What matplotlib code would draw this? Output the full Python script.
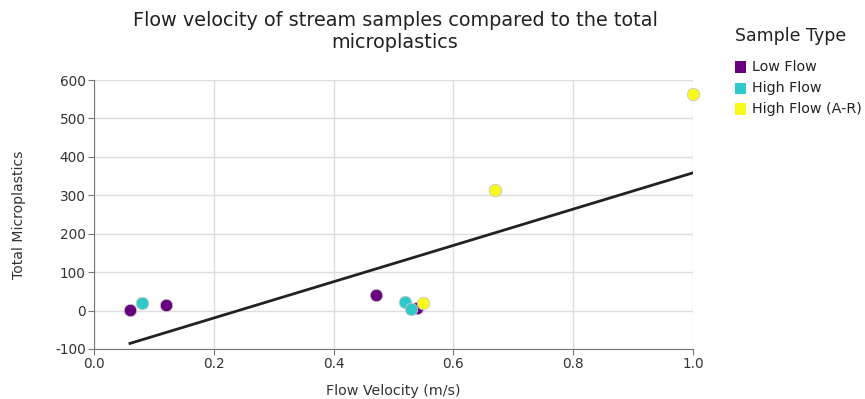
import numpy as np
import matplotlib
matplotlib.use("Agg")
import matplotlib.pyplot as plt
from matplotlib.patches import Rectangle

plt.rcParams["axes.unicode_minus"] = False

# Stream samples: flow velocity (m/s) vs total microplastics count
sample_types = ["Low Flow", "High Flow", "High Flow (A-R)"]
type_colors = ["#66007f", "#2ec9c9", "#f9f91c"]

low_flow_velocity = [0.06, 0.12, 0.47, 0.54]
low_flow_total = [2, 14, 40, 6]

high_flow_velocity = [0.08, 0.52, 0.53]
high_flow_total = [20, 22, 4]

high_flow_ar_velocity = [0.55, 0.67, 1.0]
high_flow_ar_total = [20, 314, 564]

x_ticks = [0.0, 0.2, 0.4, 0.6, 0.8, 1.0]
y_ticks = [-100, 0, 100, 200, 300, 400, 500, 600]

W, H = 865, 399
fig = plt.figure(figsize=(W / 100, H / 100), dpi=100)
ax = fig.add_axes([94 / W, 1 - 349 / H, (693 - 94) / W, (349 - 80) / H])

groups = [
    (low_flow_velocity, low_flow_total),
    (high_flow_velocity, high_flow_total),
    (high_flow_ar_velocity, high_flow_ar_total),
]
for (xs, ys), color in zip(groups, type_colors):
    ax.scatter(xs, ys, s=80, color=color, edgecolors="#c8c8c8", linewidths=0.6,
               zorder=3, clip_on=False)

# Least-squares trend line across all samples
all_x = np.concatenate([np.array(g[0]) for g in groups])
all_y = np.concatenate([np.array(g[1]) for g in groups])
slope, intercept = np.polyfit(all_x, all_y, 1)
line_x = np.array([all_x.min(), all_x.max()])
ax.plot(line_x, slope * line_x + intercept, color="#222222", linewidth=2, zorder=2)

ax.set_xlim(0, 1.0)
ax.set_ylim(-100, 600)
ax.set_xticks(x_ticks)
ax.set_yticks(y_ticks)
ax.set_xticklabels([f"{t:.1f}" for t in x_ticks])
ax.grid(True, color="#dddddd", linewidth=1)
ax.set_axisbelow(True)

for side in ["top", "right"]:
    ax.spines[side].set_visible(False)
for side in ["left", "bottom"]:
    ax.spines[side].set_color("#777777")
ax.tick_params(axis="both", colors="#777777", length=4, labelsize=9.8, labelcolor="#333333", pad=2)

ax.set_xlabel("Flow Velocity (m/s)", fontsize=10.3, color="#333333", labelpad=9)
ax.set_ylabel("Total Microplastics", fontsize=10.1, color="#333333", labelpad=21)

fig.text(395 / W, 1 - 20 / H, "Flow velocity of stream samples compared to the total",
         ha="center", va="center", fontsize=13.9, color="#222222")
fig.text(395 / W, 1 - 43 / H, "microplastics",
         ha="center", va="center", fontsize=13.9, color="#222222")

# Legend drawn in figure pixel coordinates
fig.text(735 / W, 1 - 36 / H, "Sample Type", ha="left", va="center",
         fontsize=12.5, color="#222222")
row_y = [67, 88, 109]
for label, color, yc in zip(sample_types, type_colors, row_y):
    fig.patches.append(Rectangle((735 / W, 1 - (yc + 5.5) / H), 11 / W, 11 / H,
                                 transform=fig.transFigure, facecolor=color,
                                 edgecolor="none"))
    fig.text(752 / W, 1 - yc / H, label, ha="left", va="center",
             fontsize=10.3, color="#222222")

fig.savefig("out.png", dpi=100)
